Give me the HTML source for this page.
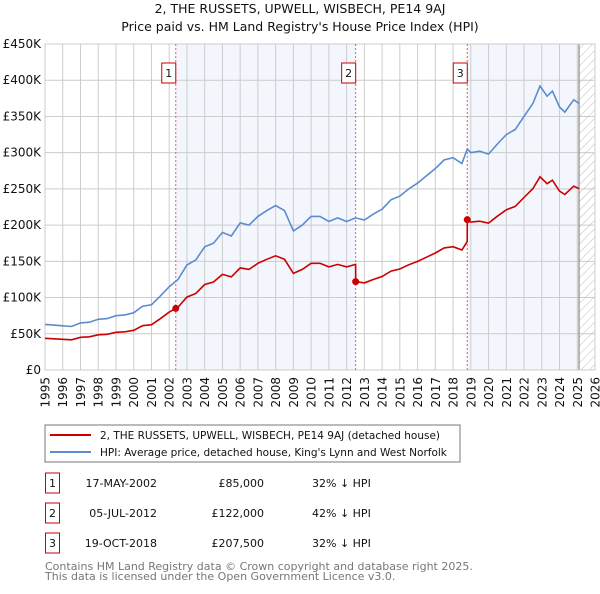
<!DOCTYPE html>
<html><head><meta charset="utf-8"><style>
body{margin:0;background:#fff;font-family:"DejaVu Sans","Liberation Sans",sans-serif;}
svg text{font-family:"DejaVu Sans","Liberation Sans",sans-serif;}
</style></head><body>
<svg id="c" width="600" height="590" xmlns="http://www.w3.org/2000/svg">
<defs><pattern id="hatch" width="6" height="6" patternUnits="userSpaceOnUse" patternTransform="rotate(45)"><line x1="0" y1="0" x2="0" y2="6" stroke="#bbb" stroke-width="1"/></pattern></defs>
<text x="300" y="13" text-anchor="middle" font-size="12.5" fill="#111">2, THE RUSSETS, UPWELL, WISBECH, PE14 9AJ</text>
<text x="300" y="31" text-anchor="middle" font-size="12.5" fill="#111">Price paid vs. HM Land Registry's House Price Index (HPI)</text>
<g id="plot"></g>
<rect x="45" y="425" width="415" height="37" fill="#fff" stroke="#777"/>
<line x1="50" y1="435" x2="91" y2="435" stroke="#cc0000" stroke-width="2"/>
<text x="100" y="439" font-size="10.5" fill="#111">2, THE RUSSETS, UPWELL, WISBECH, PE14 9AJ (detached house)</text>
<line x1="50" y1="452" x2="91" y2="452" stroke="#5b8bd0" stroke-width="2"/>
<text x="100" y="456" font-size="10.5" fill="#111">HPI: Average price, detached house, King's Lynn and West Norfolk</text>
<g id="table" font-size="11" fill="#111"></g>
<text x="45" y="570" font-size="11" fill="#777">Contains HM Land Registry data © Crown copyright and database right 2025.</text>
<text x="45" y="580" font-size="11" fill="#777">This data is licensed under the Open Government Licence v3.0.</text>
</svg>
<script>
const hpiYears=[1995,1995.5,1996,1996.5,1997,1997.5,1998,1998.5,1999,1999.5,2000,2000.5,2001,2001.5,2002,2002.5,2003,2003.5,2004,2004.5,2005,2005.5,2006,2006.5,2007,2007.5,2008,2008.5,2009,2009.5,2010,2010.5,2011,2011.5,2012,2012.5,2013,2013.5,2014,2014.5,2015,2015.5,2016,2016.5,2017,2017.5,2018,2018.5,2018.8,2019,2019.5,2020,2020.5,2021,2021.5,2022,2022.5,2022.9,2023.3,2023.6,2024,2024.3,2024.8,2025.1];
const hpiValues=[63,62,61,60,65,66,70,71,75,76,79,88,90,102,115,125,145,152,170,175,190,185,203,200,212,220,227,220,192,200,212,212,205,210,205,210,207,215,222,235,240,250,258,268,278,290,293,285,305,300,302,298,312,325,332,350,368,392,378,385,363,356,373,368];
const saleLabels=["1","2","3"];
const saleYears=[2002.37,2012.51,2018.8];
const salePrices=[85,122,207.5];
const saleDates=["17-MAY-2002","05-JUL-2012","19-OCT-2018"];
const salePriceText=["£85,000","£122,000","£207,500"];
const saleDiffs=["32% ↓ HPI","42% ↓ HPI","32% ↓ HPI"];
const yTicks=[0,50,100,150,200,250,300,350,400,450];
const yTickLabels=["£0","£50K","£100K","£150K","£200K","£250K","£300K","£350K","£400K","£450K"];
const xTicks=[1995,1996,1997,1998,1999,2000,2001,2002,2003,2004,2005,2006,2007,2008,2009,2010,2011,2012,2013,2014,2015,2016,2017,2018,2019,2020,2021,2022,2023,2024,2025,2026];
const dataEnd=2025.1;

const X0=45,X1=595,Y0=370,Y1=44;
const xs=v=>X0+(v-1995)/(2026-1995)*(X1-X0);
const ys=v=>Y0-v/450*(Y0-Y1);
const NS="http://www.w3.org/2000/svg";
const plot=document.getElementById('plot');
function mk(tag,attrs,parent){const e=document.createElementNS(NS,tag);for(const k in attrs)e.setAttribute(k,attrs[k]);(parent||plot).appendChild(e);return e;}
function hpiAt(t){for(let i=0;i<hpiYears.length-1;i++){if(t<=hpiYears[i+1]){const f=(t-hpiYears[i])/(hpiYears[i+1]-hpiYears[i]);return hpiValues[i]+f*(hpiValues[i+1]-hpiValues[i]);}}return hpiValues[hpiValues.length-1];}

let r=mk('rect',{x:xs(saleYears[0]),y:Y1,width:xs(saleYears[1])-xs(saleYears[0]),height:Y0-Y1,fill:'#f3f6fd'});

r=mk('rect',{x:xs(saleYears[2]),y:Y1,width:xs(dataEnd)-xs(saleYears[2]),height:Y0-Y1,fill:'#f3f6fd'});

yTicks.forEach((v,i)=>{const l=mk('line',{x1:X0,x2:X1,y1:ys(v),y2:ys(v),stroke:'#ccc','stroke-width':1});

const t=mk('text',{x:X0-4,y:ys(v)+4,'text-anchor':'end','font-size':12,fill:'#111'});t.textContent=yTickLabels[i];
});
xTicks.forEach(v=>{const l=mk('line',{x1:xs(v),x2:xs(v),y1:Y1,y2:Y0,stroke:'#ccc','stroke-width':1});

const t=mk('text',{x:0,y:0,'text-anchor':'end','font-size':12,fill:'#111',transform:`translate(${xs(v)+4.5},${Y0+7}) rotate(-90)`});t.textContent=v;
});
r=mk('rect',{x:xs(dataEnd),y:Y1,width:X1-xs(dataEnd),height:Y0-Y1,fill:'url(#hatch)'});

r=mk('line',{x1:xs(dataEnd),x2:xs(dataEnd),y1:Y1,y2:Y0,stroke:'#888','stroke-width':1.2});

r=mk('rect',{x:X0,y:Y1,width:X1-X0,height:Y0-Y1,fill:'none',stroke:'#ccc'});

saleYears.forEach((v,i)=>{const l=mk('line',{x1:xs(v),x2:xs(v),y1:Y1,y2:Y0,stroke:'#e06060','stroke-dasharray':'2,2','stroke-width':1});

const b=mk('rect',{x:xs(v)-14,y:63,width:14,height:20,fill:'#fff',stroke:'#cc0000'});

const t=mk('text',{x:xs(v)-7,y:77,'text-anchor':'middle','font-size':11,fill:'#111'});t.textContent=saleLabels[i];
});
let d=hpiYears.map((y,i)=>(i?'L':'M')+xs(y).toFixed(1)+','+ys(hpiValues[i]).toFixed(1)).join(' ');
r=mk('path',{d:d,fill:'none',stroke:'#5b8bd0','stroke-width':1.6});

const pts=[];
hpiYears.forEach((y,i)=>{let k=0;for(let j=0;j<saleYears.length;j++)if(y>=saleYears[j])k=j;
pts.push([y,hpiValues[i]*salePrices[k]/hpiAt(saleYears[k])]);});
saleYears.forEach((s,j)=>{if(j>0)pts.push([s-0.001,hpiAt(s)*salePrices[j-1]/hpiAt(saleYears[j-1])]);pts.push([s,salePrices[j]]);});
pts.sort((a,b)=>a[0]-b[0]);
d=pts.map((p,i)=>(i?'L':'M')+xs(p[0]).toFixed(1)+','+ys(p[1]).toFixed(1)).join(' ');
r=mk('path',{d:d,fill:'none',stroke:'#cc0000','stroke-width':1.6});

saleYears.forEach((v,i)=>{const c=mk('circle',{cx:xs(v),cy:ys(salePrices[i]),r:3.5,fill:'#cc0000'});
});
const tb=document.getElementById('table');
saleLabels.forEach((l,i)=>{const y=483+i*30;
const b=mk('rect',{x:45.5,y:y-10,width:14,height:20,fill:'#fff',stroke:'#cc0000'},tb);

let t=mk('text',{x:52.5,y:y+4,'text-anchor':'middle'},tb);t.textContent=l;

t=mk('text',{x:157,y:y+4,'text-anchor':'end'},tb);t.textContent=saleDates[i];

t=mk('text',{x:264,y:y+4,'text-anchor':'end'},tb);t.textContent=salePriceText[i];

t=mk('text',{x:312,y:y+4},tb);t.textContent=saleDiffs[i];
});
</script>
</body></html>
